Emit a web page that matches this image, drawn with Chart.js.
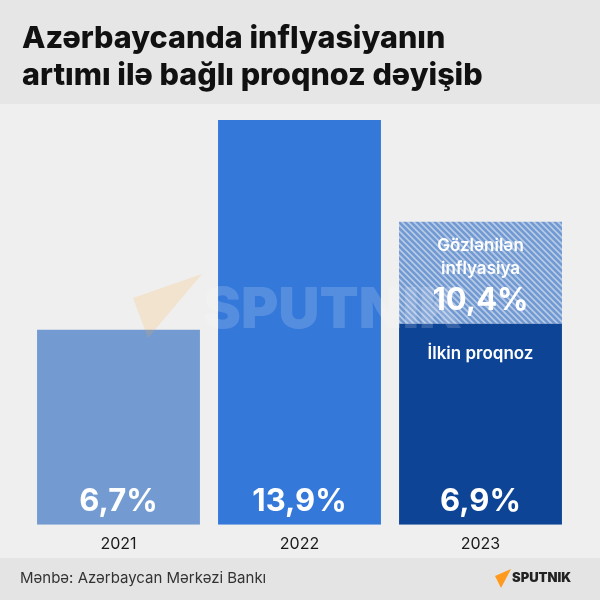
<!DOCTYPE html>
<html>
<head>
<meta charset="utf-8">
<script src="https://cdn.jsdelivr.net/npm/chart.js@4/dist/chart.umd.min.js"></script>
<style>
  html, body { margin: 0; padding: 0; background: #efefef; }
  #wrap { width: 600px; height: 600px; }
</style>
</head>
<body>
<div id="wrap"><canvas id="barChart" width="600" height="600"></canvas></div>
<script>
// chart data
var years = ['2021', '2022', '2023'];
var actualValues = [6.7, 13.9, 6.9];       // base bars (2023 = initial forecast)
var expectedExtra = [null, null, 3.5];     // 10.4 - 6.9, expected inflation on top
var valueLabels = ['6,7%', '13,9%', '6,9%'];
var expectedLabel = '10,4%';
var barColors = ['#739bd2', '#3478d9', '#0e4496'];

var titleLines = ['Azərbaycanda inflyasiyanın', 'artımı ilə bağlı proqnoz dəyişib'];
var sourceText = 'Mənbə: Azərbaycan Mərkəzi Bankı';

// diagonal stripes for the expected part
function makeHatch() {
    var c = document.createElement('canvas');
    c.width = 6; c.height = 6;
    var p = c.getContext('2d');
    p.fillStyle = '#7199d2';
    p.fillRect(0, 0, 6, 6);
    p.strokeStyle = '#b9cbe7';
    p.lineWidth = 1.6;
    p.beginPath();
    p.moveTo(-3, -3); p.lineTo(9, 9);
    p.moveTo(-3, 3); p.lineTo(3, 9);
    p.moveTo(3, -3); p.lineTo(9, 3);
    p.stroke();
    return p.createPattern(c, 'repeat');
}

var ctx = document.getElementById('barChart').getContext('2d');

// backgrounds, title and footer
var framePlugin = {
    id: 'frame',
    beforeDraw: function (chart) {
        var c = chart.ctx;
        c.save();
        c.fillStyle = '#efefef';
        c.fillRect(0, 0, 600, 600);
        c.fillStyle = '#e6e6e6';
        c.fillRect(0, 0, 600, 104);
        c.fillStyle = '#e4e4e4';
        c.fillRect(0, 558, 600, 42);

        c.fillStyle = '#111111';
        c.font = '800 30.5px Inter, "Noto Sans", sans-serif';
        c.textBaseline = 'alphabetic';
        c.textAlign = 'left';
        c.fillText(titleLines[0], 22, 48);
        c.fillText(titleLines[1], 22, 85);

        c.fillStyle = '#333333';
        c.font = '15px Inter, "Noto Sans", sans-serif';
        c.textBaseline = 'middle';
        c.fillText(sourceText, 20, 578);

        // footer logo
        c.fillStyle = '#ff9a1f';
        c.beginPath();
        c.moveTo(495, 576); c.lineTo(511, 569); c.lineTo(501, 588);
        c.closePath();
        c.fill();
        c.fillStyle = '#222222';
        c.font = '900 13px Inter, "Noto Sans", sans-serif';
        c.fillText('SPUTNIK', 512, 578);
        c.restore();
    },
    afterDatasetsDraw: function (chart) {
        var c = chart.ctx;
        c.save();
        // watermark
        c.fillStyle = 'rgba(255, 170, 60, 0.18)';
        c.beginPath();
        c.moveTo(133, 298); c.lineTo(202, 274); c.lineTo(148, 338);
        c.closePath();
        c.fill();
        c.fillStyle = 'rgba(255, 255, 255, 0.17)';
        c.font = '900 57px Inter, "Noto Sans", sans-serif';
        c.textAlign = 'left';
        c.textBaseline = 'alphabetic';
        c.fillText('SPUTNIK', 203, 328);

        // value labels
        var base = chart.getDatasetMeta(0).data;
        var top = chart.getDatasetMeta(1).data;
        c.fillStyle = '#ffffff';
        c.textAlign = 'center';
        c.textBaseline = 'middle';
        c.font = 'bold 31px Inter, "Noto Sans", sans-serif';
        base.forEach(function (bar, i) {
            c.fillText(valueLabels[i], bar.x, bar.base - 23);
        });
        var t = top[2];
        c.fillText(expectedLabel, t.x, t.base - 23);
        c.font = '600 17px Inter, "Noto Sans", sans-serif';
        c.fillText('Gözlənilən', t.x, t.y + 24);
        c.fillText('inflyasiya', t.x, t.y + 47);
        c.fillText('İlkin proqnoz', t.x, t.base + 30);
        c.restore();
    }
};

var barChart = new Chart(ctx, {
    type: 'bar',
    data: {
        labels: years,
        datasets: [
            {
                label: 'Faktiki / ilkin proqnoz',
                data: actualValues,
                backgroundColor: barColors,
                barPercentage: 0.9,
                categoryPercentage: 1
            },
            {
                label: 'Gözlənilən inflyasiya',
                data: expectedExtra,
                backgroundColor: makeHatch(),
                barPercentage: 0.9,
                categoryPercentage: 1
            }
        ]
    },
    options: {
        responsive: false,
        animation: false,
        layout: { padding: { left: 28, right: 29, top: 117, bottom: 36 } },
        plugins: {
            legend: { display: false },
            tooltip: { enabled: false }
        },
        scales: {
            x: {
                stacked: true,
                grid: { display: false, drawTicks: false },
                border: { display: false },
                ticks: {
                    color: '#1a1a1a',
                    padding: 10,
                    font: { family: 'Inter, "Noto Sans", sans-serif', size: 16 }
                }
            },
            y: {
                stacked: true,
                display: false,
                min: 0,
                max: 14
            }
        }
    },
    plugins: [framePlugin]
});
</script>
</body>
</html>
